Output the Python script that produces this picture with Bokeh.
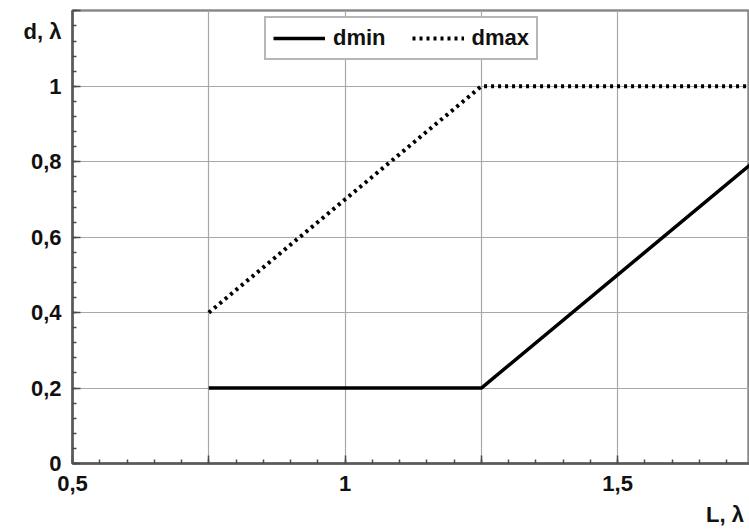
from bokeh.plotting import figure
from bokeh.models import Range1d, FixedTicker, Legend, LegendItem, LinearAxis
from bokeh.embed import file_html
from bokeh.resources import INLINE

# data
L_min = [0.75, 1.25, 1.75]
d_min = [0.2, 0.2, 0.8]
L_max = [0.75, 1.25, 1.75]
d_max = [0.4, 1.0, 1.0]

x_major = [0.5, 0.75, 1.0, 1.25, 1.5]
x_labels = {0.5: "0,5", 0.75: "", 1.0: "1", 1.25: "", 1.5: "1,5"}
y_major = [0.0, 0.2, 0.4, 0.6, 0.8, 1.0]
y_labels = {0.0: "0", 0.2: "0,2", 0.4: "0,4", 0.6: "0,6", 0.8: "0,8", 1.0: "1"}
y_title_pos, y_title = 1.1455, "d, λ"
x_title_pos, x_title = 1.697, "L, λ"

FONT = "Liberation Sans"

p = figure(width=749, height=529, output_backend="svg", toolbar_location=None,
           x_range=Range1d(0.5, 1.742), y_range=Range1d(0, 1.201),
           min_border_left=72, min_border_right=0, min_border_top=10, min_border_bottom=65)

p.background_fill_color = "white"
p.border_fill_color = "white"
p.outline_line_color = "#8a8a8a"
p.outline_line_width = 2.5

x_minor = [round(0.5 + 0.05 * i, 2) for i in range(0, 25)]
y_minor = [round(0.04 * i, 2) for i in range(0, 31)]

xA = p.xaxis[0]
yA = p.yaxis[0]

xA.ticker = FixedTicker(ticks=x_major, minor_ticks=x_minor)
xA.major_label_overrides = x_labels
yA.ticker = FixedTicker(ticks=y_major + [1.2], minor_ticks=y_minor)
yA.major_label_overrides = {k: "" for k in y_major + [1.2]}
yA.major_label_standoff = 0

for ax in (xA, yA):
    ax.axis_line_color = "#5a5a5a"
    ax.axis_line_width = 2.5
    ax.major_tick_in = 8
    ax.major_tick_out = 0
    ax.minor_tick_in = 4
    ax.minor_tick_out = 0
    ax.major_tick_line_color = "#4a4a4a"
    ax.major_tick_line_width = 1.5
    ax.minor_tick_line_color = "#4a4a4a"
    ax.minor_tick_line_width = 1.5
    ax.major_label_text_font = FONT
    ax.major_label_text_font_style = "bold"
    ax.major_label_text_font_size = "22px"
    ax.major_label_text_color = "#111111"
xA.major_label_standoff = 12

# outer label-only axes (tick labels + axis titles)
yl = dict(y_labels)
yl[y_title_pos] = y_title
yB = LinearAxis(ticker=FixedTicker(ticks=y_major + [y_title_pos], minor_ticks=[]),
                major_label_overrides=yl)
xB = LinearAxis(ticker=FixedTicker(ticks=[x_title_pos], minor_ticks=[]),
                major_label_overrides={x_title_pos: x_title})
for ax in (xB, yB):
    ax.axis_line_color = None
    ax.major_tick_line_color = None
    ax.minor_tick_line_color = None
    ax.major_tick_in = 0
    ax.major_tick_out = 0
    ax.minor_tick_in = 0
    ax.minor_tick_out = 0
    ax.major_label_text_font = FONT
    ax.major_label_text_font_style = "bold"
    ax.major_label_text_font_size = "22px"
    ax.major_label_text_color = "#111111"
yB.major_label_standoff = 11
xB.major_label_standoff = 8
p.add_layout(yB, "left")
p.add_layout(xB, "below")

p.xgrid.ticker = FixedTicker(ticks=x_major)
p.ygrid.ticker = FixedTicker(ticks=y_major)
for g in (p.xgrid, p.ygrid):
    g.grid_line_color = "#a8a8a8"
    g.grid_line_width = 1.2

r_min = p.line(L_min, d_min, line_color="black", line_width=3.5)
r_max = p.line(L_max, d_max, line_color="black", line_width=4, line_dash="3 4")

legend = Legend(items=[LegendItem(label="dmin", renderers=[r_min]),
                       LegendItem(label="dmax", renderers=[r_max])],
                location=(192, 403), orientation="horizontal",
                glyph_width=52, glyph_height=20, label_height=22,
                label_standoff=8, spacing=26, padding=7, margin=0,
                label_text_font=FONT, label_text_font_style="bold",
                label_text_font_size="22px", label_text_color="#111111",
                border_line_color="#707070", border_line_width=2,
                background_fill_alpha=1.0)
p.add_layout(legend, "center")

open("out.html", "w").write(file_html(p, INLINE))
